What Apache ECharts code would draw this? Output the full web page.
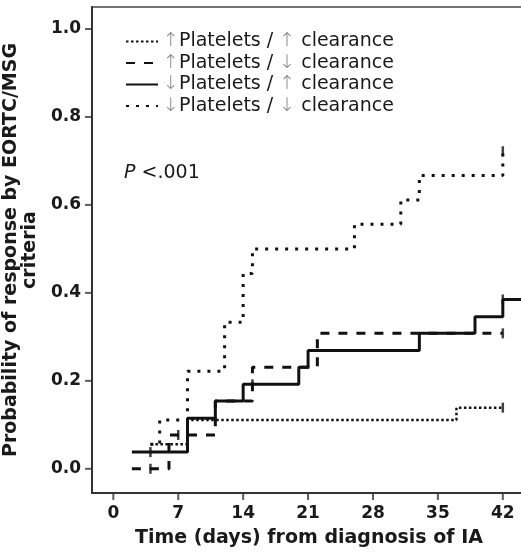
<!DOCTYPE html>
<html>
<head>
<meta charset="utf-8">
<script src="https://cdn.jsdelivr.net/npm/echarts@6/dist/echarts.min.js"></script>
<style>
  html, body { margin: 0; padding: 0; background: #fff; }
  #chart { width: 521px; height: 557px; }
</style>
</head>
<body>
<div id="chart"></div>
<script>
// legend labels, in the order of the legend
const groupNames = ['↑Platelets / ↑ clearance', '↑Platelets / ↓ clearance', '↓Platelets / ↑ clearance', '↓Platelets / ↓ clearance']

// step curves: time (days) and cumulative probability of response
const upUpTimes = [4, 8, 37, 42]
const upUpValues = [0.056, 0.111, 0.139, 0.139]
const upDownTimes = [2, 6, 11, 15, 22, 42]
const upDownValues = [0, 0.077, 0.154, 0.231, 0.308, 0.308]
const downUpTimes = [2, 8, 11, 14, 20, 21, 33, 39, 42, 44]
const downUpValues = [0.038, 0.115, 0.154, 0.192, 0.231, 0.269, 0.308, 0.346, 0.385, 0.385]
const downDownTimes = [4, 5, 8, 12, 14, 15, 26, 31, 33, 42]
const downDownValues = [0.056, 0.111, 0.222, 0.333, 0.444, 0.5, 0.556, 0.611, 0.667, 0.722]

// censor marks [time, value]
const upUpCensor = [[42, 0.139]]
const upDownCensor = [[4, 0], [7, 0.077], [42, 0.308]]
const downUpCensor = [[4, 0.038], [15, 0.192], [42, 0.385]]
const downDownCensor = [[42, 0.722]]

const xTicks = [0, 7, 14, 21, 28, 35, 42]
const yTicks = [0, 0.2, 0.4, 0.6, 0.8, 1.0]
const pText = 'P <.001'

const xMin = -2.3
const xMax = 44.5
const yMin = -0.055
const yMax = 1.05

const ink = '#111'
const font = 'DejaVu Sans'

function pairs (xs, ys) {
  return xs.map((x, i) => [x, ys[i]])
}

const styles = [
  { width: 2.5, type: [2.5, 2.5] },
  { width: 3, type: [9, 9] },
  { width: 3, type: 'solid' },
  { width: 3, type: [3, 7] }
]
const curves = [
  pairs(upUpTimes, upUpValues),
  pairs(upDownTimes, upDownValues),
  pairs(downUpTimes, downUpValues),
  pairs(downDownTimes, downDownValues)
]
const censors = [upUpCensor, upDownCensor, downUpCensor, downDownCensor]

const series = []
curves.forEach((data, i) => {
  series.push({
    name: groupNames[i],
    type: 'line',
    step: 'end',
    data: data,
    symbol: 'none',
    silent: true,
    animation: false,
    // transparent item colour hides the circle ECharts puts on line legend icons
    itemStyle: { color: 'rgba(0,0,0,0)' },
    lineStyle: { color: ink, width: styles[i].width, type: styles[i].type, cap: 'butt' }
  })
})
censors.forEach((data) => {
  series.push({
    type: 'scatter',
    data: data,
    symbol: 'rect',
    symbolSize: [2.5, 10],
    itemStyle: { color: ink },
    silent: true,
    animation: false
  })
})

// outward tick marks: small rects sitting on the axis edges
series.push({
  type: 'scatter',
  data: xTicks.map((v) => [v, yMin]),
  symbol: 'rect',
  symbolSize: [2, 7],
  symbolOffset: [0, '50%'],
  clip: false,
  itemStyle: { color: '#333' },
  silent: true,
  animation: false
})
series.push({
  type: 'scatter',
  data: yTicks.map((v) => [xMin, v]),
  symbol: 'rect',
  symbolSize: [7, 2],
  symbolOffset: ['-50%', 0],
  clip: false,
  itemStyle: { color: '#333' },
  silent: true,
  animation: false
})

const chart = echarts.init(document.getElementById('chart'))
chart.setOption({
  backgroundColor: '#fff',
  textStyle: { fontFamily: font },
  grid: {
    left: 92,
    top: 7,
    bottom: 64,
    right: -5,
    outerBoundsMode: 'none',
    containLabel: false,
    show: true,
    borderColor: '#444',
    borderWidth: 1.5
  },
  legend: {
    orient: 'vertical',
    left: 120,
    top: 26,
    itemWidth: 32,
    itemHeight: 14,
    itemGap: 0.5,
    data: groupNames,
    textStyle: {
      fontSize: 19,
      lineHeight: 21,
      color: '#1a1a1a',
      fontFamily: font,
      rich: {
        a: { fontSize: 19, color: '#888', fontFamily: font, fontWeight: 'lighter' }
      }
    },
    formatter: function (name) {
      return name.replace(/[↑↓]/g, (m) => '{a|' + m + '}')
    }
  },
  graphic: [{
    type: 'text',
    left: 124,
    top: 164,
    style: {
      text: '{i|P}{n|' + pText.slice(1) + '}',
      rich: {
        i: { fontSize: 19, fontStyle: 'italic', fill: '#1a1a1a', fontFamily: font },
        n: { fontSize: 19, fill: '#1a1a1a', fontFamily: font }
      }
    }
  }],
  xAxis: {
    type: 'value',
    min: xMin,
    max: xMax,
    splitLine: { show: false },
    axisLine: { onZero: false, lineStyle: { color: '#333', width: 2 } },
    axisTick: { show: false },
    axisLabel: {
      customValues: xTicks,
      margin: 12,
      fontSize: 17,
      fontWeight: 'bold',
      color: '#1a1a1a',
      fontFamily: font
    },
    name: 'Time (days) from diagnosis of IA',
    nameLocation: 'middle',
    nameGap: 36,
    nameTextStyle: { fontSize: 19, fontWeight: 'bold', color: '#1a1a1a', fontFamily: font }
  },
  yAxis: {
    type: 'value',
    min: yMin,
    max: yMax,
    splitLine: { show: false },
    axisLine: { show: true, onZero: false, lineStyle: { color: '#333', width: 2 } },
    axisTick: { show: false },
    axisLabel: {
      customValues: yTicks,
      margin: 11,
      fontSize: 17,
      fontWeight: 'bold',
      color: '#1a1a1a',
      fontFamily: font,
      formatter: (v) => v.toFixed(1)
    },
    name: 'Probability of response by EORTC/MSG\ncriteria',
    nameLocation: 'middle',
    nameGap: 46,
    nameRotate: 90,
    nameTextStyle: { fontSize: 19, fontWeight: 'bold', color: '#1a1a1a', fontFamily: font, lineHeight: 19 }
  },
  series: series
})
</script>
</body>
</html>
